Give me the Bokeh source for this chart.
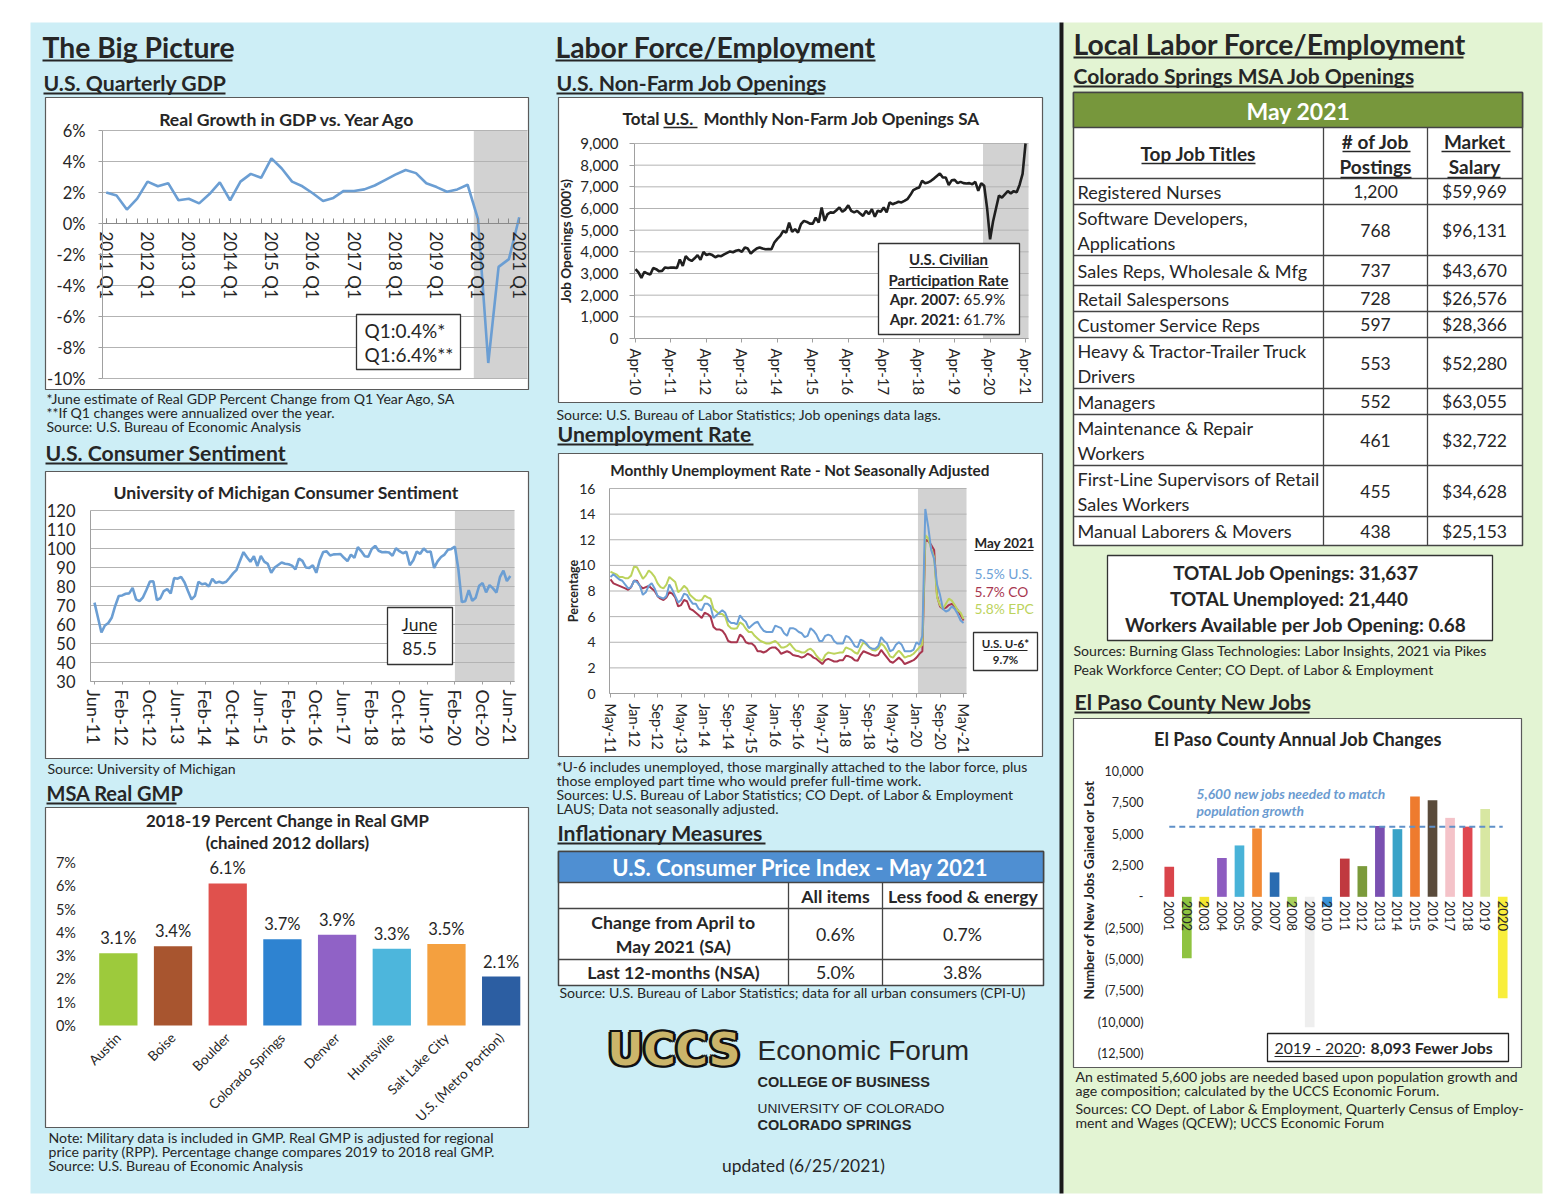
import math
from bokeh.plotting import figure
from bokeh.models import (Range1d, FixedTicker, ColumnDataSource, NumeralTickFormatter,
                          LabelSet, LinearAxis)
from bokeh.core.properties import value
from bokeh.embed import file_html
from bokeh.resources import INLINE

# ======================= DATA =======================
gdp_x_labels = ["2011 Q1", "2012 Q1", "2013 Q1", "2014 Q1", "2015 Q1", "2016 Q1",
                "2017 Q1", "2018 Q1", "2019 Q1", "2020 Q1", "2021 Q1"]
gdp_y_ticks = [-10, -8, -6, -4, -2, 0, 2, 4, 6]
gdp_y_labels = ["-10%", "-8%", "-6%", "-4%", "-2%", "0%", "2%", "4%", "6%"]
gdp_growth = [2.0, 1.8, 0.9, 1.6, 2.7, 2.4, 2.6, 1.5, 1.6, 1.3, 1.9, 2.65, 1.5, 2.7, 3.2, 2.95,
              4.2, 3.55, 2.7, 2.4, 1.95, 1.45, 1.65, 2.1, 2.1, 2.2, 2.45, 2.8, 3.15, 3.45, 3.25,
              2.6, 2.35, 2.05, 2.2, 2.5, 0.3, -9.0, -2.8, -2.3, 0.4]
gdp_shade_from = 35.6
gdp_callout = ["Q1:0.4%*", "Q1:6.4%**"]

sent_x_labels = ["Jun-11", "Feb-12", "Oct-12", "Jun-13", "Feb-14", "Oct-14", "Jun-15", "Feb-16",
                 "Oct-16", "Jun-17", "Feb-18", "Oct-18", "Jun-19", "Feb-20", "Oct-20", "Jun-21"]
sent_y_ticks = [30, 40, 50, 60, 70, 80, 90, 100, 110, 120]
sentiment = [71.5, 63.7, 55.8, 59.5, 60.8, 63.7, 69.9,
             75.0, 75.3, 76.2, 76.4, 79.3, 73.2, 72.3, 74.3, 78.3, 82.6, 82.7, 72.9,
             73.8, 77.6, 78.6, 76.4, 84.5, 84.1, 85.1, 82.1, 77.5, 73.2, 75.1, 82.5,
             81.2, 81.6, 80.0, 84.1, 81.9, 82.5, 81.8, 82.5, 84.6, 86.9, 88.8, 93.6,
             98.1, 95.4, 93.0, 95.9, 90.7, 96.1, 93.1, 91.9, 87.2, 90.0, 91.3, 92.6,
             92.0, 91.7, 91.0, 89.0, 94.7, 93.5, 90.0, 89.8, 91.2, 87.2, 93.8, 98.2,
             98.5, 96.3, 96.9, 97.0, 97.1, 95.1, 93.4, 96.8, 95.1, 100.7, 98.5, 95.9,
             95.7, 99.7, 101.4, 98.8, 98.0, 98.2, 97.9, 96.2, 100.1, 98.6, 97.5, 98.3,
             91.2, 93.8, 98.4, 97.2, 100.0, 98.2, 98.4, 89.8, 93.2, 95.5, 96.8, 99.3,
             99.8, 101.0, 89.1, 71.8, 72.3, 78.1, 72.5, 74.1, 80.4, 81.8, 76.9, 80.7,
             79.0, 76.8, 84.9, 88.3, 82.9, 85.5]
sent_shade_from = 104
sent_callout = ["June", "85.5"]

gmp_cities = ["Austin", "Boise", "Boulder", "Colorado Springs", "Denver", "Huntsville",
              "Salt Lake City", "U.S. (Metro Portion)"]
gmp_change = [3.1, 3.4, 6.1, 3.7, 3.9, 3.3, 3.5, 2.1]
gmp_colors = ["#9dca3c", "#a8552f", "#e0514d", "#2e83d1", "#9062c6", "#4db6dc", "#f4a03f", "#2c5ea2"]
gmp_y_ticks = [0, 1, 2, 3, 4, 5, 6, 7]
gmp_y_labels = ["0%", "1%", "2%", "3%", "4%", "5%", "6%", "7%"]

jobs_x_labels = ["Apr-10", "Apr-11", "Apr-12", "Apr-13", "Apr-14", "Apr-15", "Apr-16",
                 "Apr-17", "Apr-18", "Apr-19", "Apr-20", "Apr-21"]
jobs_y_ticks = [0, 1000, 2000, 3000, 4000, 5000, 6000, 7000, 8000, 9000]
job_openings = [3200, 3050, 2800, 3080, 3000, 2950, 3250, 3200, 3100, 3120, 3280, 3250,
                3280, 3270, 3250, 3650, 3350, 3800, 3650, 3580, 3700, 3850, 3630, 4000,
                3850, 3900, 3850, 3750, 3820, 3800, 3880, 3950, 4020, 3980, 4050, 4080,
                4000, 4200, 4150, 3920, 4050, 4150, 4200, 4150, 4120, 4130, 4120, 4430,
                4600, 4740, 4970, 4890, 5350, 4920, 5050, 4890, 5280, 5430, 5380, 5300,
                5300, 5580, 5350, 6050, 5430, 5740, 5820, 5800, 5920, 6050, 5850, 5950,
                6150, 5890, 5820, 5890, 5770, 5660, 5890, 5740, 5970, 5620, 5900, 5850,
                6050, 5820, 6280, 6200, 6250, 6310, 6280, 6350, 6430, 6620, 6850, 6920,
                6970, 7280, 7170, 7200, 7280, 7380, 7500, 7620, 7430, 7430, 7080, 7300,
                7320, 7170, 7230, 7170, 7150, 7170, 7120, 7230, 6820, 7170, 7050, 6000,
                4580, 5400, 6000, 6600, 6500, 6650, 6800, 6700, 6800, 6750, 7100, 7600, 9000]
jobs_shade_from = 117.6
participation = [("Apr. 2007:", "65.9%"), ("Apr. 2021:", "61.7%")]

unemp_x_labels = ["May-11", "Jan-12", "Sep-12", "May-13", "Jan-14", "Sep-14", "May-15", "Jan-16",
                  "Sep-16", "May-17", "Jan-18", "Sep-18", "May-19", "Jan-20", "Sep-20", "May-21"]
unemp_y_ticks = [0, 2, 4, 6, 8, 10, 12, 14, 16]
unemp_us = [9.1, 9.3, 9.1, 8.9, 8.8, 8.5, 8.2, 8.3,
            8.8, 8.7, 8.4, 7.7, 7.9, 8.4, 8.6, 8.2, 7.6, 7.5, 7.4, 7.6,
            8.5, 8.1, 7.6, 7.1, 7.3, 7.8, 7.7, 7.3, 7.0, 7.0, 6.6, 6.5,
            7.0, 7.0, 6.8, 5.9, 6.1, 6.3, 6.5, 6.3, 5.7, 5.5, 5.5, 5.4,
            6.1, 5.8, 5.6, 5.1, 5.3, 5.5, 5.6, 5.2, 4.9, 4.8, 4.8, 4.8,
            5.3, 5.2, 5.1, 4.7, 4.5, 5.1, 5.1, 5.0, 4.8, 4.7, 4.4, 4.5,
            5.1, 4.9, 4.6, 4.1, 4.1, 4.5, 4.6, 4.5, 4.1, 3.9, 3.9, 3.9,
            4.5, 4.4, 4.1, 3.7, 3.6, 4.2, 4.1, 3.9, 3.6, 3.5, 3.5, 3.7,
            4.4, 4.1, 3.9, 3.3, 3.4, 3.8, 4.0, 3.8, 3.3, 3.3, 3.3, 3.4,
            4.0, 3.8, 4.5, 14.4, 13.0, 11.2, 10.5, 8.5, 7.7, 6.6, 6.4, 6.5,
            6.8, 6.6, 6.2, 5.7, 5.5]
unemp_co = [8.9, 8.6, 8.5, 8.4, 8.3, 8.2, 8.1, 8.3,
            8.8, 8.8, 8.4, 8.2, 8.3, 8.4, 8.2, 8.0, 7.6, 7.4, 7.3, 7.5,
            7.9, 7.8, 7.5, 6.8, 6.9, 7.3, 7.2, 6.6, 6.5, 6.3, 6.1, 5.9,
            6.3, 6.2, 6.0, 5.2, 5.0, 5.0, 4.9, 4.6, 4.1, 4.0, 4.0, 4.0,
            4.6, 4.4, 4.0, 3.9, 3.9, 3.7, 3.3, 3.3, 3.2, 3.3, 3.5, 3.6,
            3.6, 3.4, 3.1, 3.2, 3.3, 3.2, 3.0, 2.95, 2.9, 2.8, 2.9, 3.1,
            3.0, 2.8, 2.7, 2.5, 2.3, 2.6, 2.7, 2.6, 2.5, 2.5, 2.6, 2.6,
            2.95, 2.9, 2.8, 2.6, 2.55, 3.0, 3.3, 3.2, 3.1, 3.0, 2.95, 3.0,
            3.4, 3.1, 2.8, 2.5, 2.4, 2.6, 2.8, 2.6, 2.3, 2.4, 2.5, 2.6,
            2.8, 3.1, 3.3, 12.0, 11.9, 11.6, 11.2, 7.6, 6.8, 6.6, 6.7, 6.9,
            7.0, 6.8, 6.5, 6.1, 5.7]
unemp_epc = [9.5, 9.4, 9.3, 9.1, 9.1, 9.0, 9.0, 9.2,
             9.9, 9.85, 9.4, 8.95, 9.2, 9.6, 9.4, 9.1, 8.6, 8.3, 8.2, 8.5,
             9.1, 8.9, 8.7, 7.9, 8.1, 8.4, 8.2, 7.7, 7.5, 7.3, 7.25, 7.3,
             7.65, 7.5, 7.4, 6.6, 6.4, 6.2, 6.2, 6.0, 5.3, 5.1, 5.05, 5.1,
             5.55, 5.4, 5.05, 4.8, 4.8, 4.5, 4.3, 4.1, 4.0, 3.9, 3.9, 4.0,
             4.1, 3.9, 3.6, 3.6, 3.7, 3.9, 3.6, 3.35, 3.3, 3.2, 3.2, 3.4,
             3.5, 3.3, 2.95, 2.7, 2.55, 3.0, 3.2, 3.15, 3.1, 3.15, 3.2, 3.2,
             3.6, 3.5, 3.4, 3.2, 3.1, 3.6, 4.0, 3.8, 3.6, 3.4, 3.35, 3.5,
             3.9, 3.7, 3.35, 2.9, 2.8, 3.1, 3.35, 3.1, 2.8, 2.9, 2.95, 3.1,
             3.35, 3.6, 3.8, 12.35, 12.1, 11.3, 10.65, 7.5, 6.9, 6.6, 7.0, 7.4,
             7.25, 6.9, 6.5, 6.3, 5.8]
unemp_shade_from = 104.5
unemp_legend = [("5.5% U.S.", "#6c9fd6"), ("5.7% CO", "#a8364f"), ("5.8% EPC", "#bcd35c")]
u6_rate = "9.7%"

ep_years = ["2001", "2002", "2003", "2004", "2005", "2006", "2007", "2008", "2009", "2010",
            "2011", "2012", "2013", "2014", "2015", "2016", "2017", "2018", "2019", "2020"]
ep_change = [2400, -4900, -850, 3100, 4100, 5450, 1950, -800, -10400, -800,
             3050, 2450, 5650, 5400, 8000, 7700, 6300, 5600, 7000, -8093]
ep_colors = ["#d9444b", "#8fc340", "#f3e52f", "#8d5cc0", "#49b3d8", "#f28a35", "#2a6cb1", "#a8d05c",
             "#eeeeee", "#3b93d7", "#c0393f", "#7b9a3b", "#7a50b1", "#3aa3c8", "#ee7b2e", "#5a4b3b",
             "#f4c3c9", "#df4850", "#d8e7a2", "#f8ee3c"]
ep_y_ticks = [-12500, -10000, -7500, -5000, -2500, 0, 2500, 5000, 7500, 10000]
ep_y_labels = ["(12,500)", "(10,000)", "(7,500)", "(5,000)", "(2,500)", "-",
               "2,500", "5,000", "7,500", "10,000"]
ep_target = 5600

job_titles = ["Registered Nurses", "Software Developers,\nApplications", "Sales Reps, Wholesale & Mfg",
              "Retail Salespersons", "Customer Service Reps", "Heavy & Tractor-Trailer Truck\nDrivers",
              "Managers", "Maintenance & Repair\nWorkers", "First-Line Supervisors of Retail\nSales Workers",
              "Manual Laborers & Movers"]
job_postings = [1200, 768, 737, 728, 597, 553, 552, 461, 455, 438]
job_salary = [59969, 96131, 43670, 26576, 28366, 52280, 63055, 32722, 34628, 25153]
total_openings = 31637
total_unemployed = 21440
workers_per_opening = 0.68

cpi_rows = ["Change from April to\nMay 2021 (SA)", "Last 12-months (NSA)"]
cpi_cols = ["All items", "Less food & energy"]
cpi_all = [0.6, 5.0]
cpi_core = [0.7, 3.8]

# ======================= STYLE / LAYOUT =======================
FONT = "Lato"
INK = "#262626"
BLUE_BG = "#cdeef6"
GREEN_BG = "#e3f4d3"
SHADE = "#d2d2d2"
GRID = "#b3b3b3"
PW, PH = 1544, 1196          # page pixel coordinates, origin at top-left

P = figure(width=PW, height=PH, x_range=Range1d(0, PW), y_range=Range1d(PH, 0),
           output_backend="svg", toolbar_location=None, min_border=0,
           x_axis_location=None, y_axis_location=None)
P.grid.visible = False
P.outline_line_color = None
P.background_fill_color = "white"
P.border_fill_color = "white"

XR, YR = {}, {}


def chart_space(name, xd, xp, yd, yp):
    """data interval xd maps to page pixels xp; yd (bottom, top) maps to page pixels yp."""
    kx = (xd[1] - xd[0]) / (xp[1] - xp[0])
    xs = xd[0] - xp[0] * kx
    XR[name] = Range1d(xs, xs + PW * kx)
    ky = (yd[1] - yd[0]) / (yp[0] - yp[1])
    ys = yd[0] - (PH - yp[0]) * ky
    YR[name] = Range1d(ys, ys + PH * ky)
    return dict(x_range_name=name, y_range_name=name)


def axis(name, side, fixed, bounds, ticks, labels=None, minor=None, size=15, orient="horizontal",
         standoff=8, tick_in=0, tick_out=0, line_color="#a0a0a0", formatter=None,
         title=None, title_size=14, title_standoff=4):
    ax = LinearAxis(x_range_name=name, y_range_name=name, fixed_location=fixed, bounds=bounds)
    ax.ticker = FixedTicker(ticks=ticks, minor_ticks=minor or [])
    if labels is not None:
        ax.major_label_overrides = dict(zip(ticks, labels))
    if formatter is not None:
        ax.formatter = formatter
    ax.major_label_text_font = FONT
    ax.major_label_text_font_size = f"{size}px"
    ax.major_label_text_color = INK
    ax.major_label_orientation = orient
    ax.major_label_standoff = standoff
    ax.major_tick_in, ax.major_tick_out = tick_in, tick_out
    ax.minor_tick_in, ax.minor_tick_out = tick_in, 0
    ax.axis_line_color = line_color
    ax.major_tick_line_color = line_color if (tick_in or tick_out) else None
    ax.minor_tick_line_color = line_color if minor else None
    if title:
        ax.axis_label = title
        ax.axis_label_text_font = FONT
        ax.axis_label_text_font_style = "bold"
        ax.axis_label_text_font_size = f"{title_size}px"
        ax.axis_label_text_color = INK
        ax.axis_label_standoff = title_standoff
    P.add_layout(ax, side)
    return ax


def hgrid(rn, xd, ticks):
    P.segment(x0=xd[0], x1=xd[1], y0=ticks, y1=ticks, line_color=GRID, line_width=1, **rn)


# ---------- text / shape collectors (page coordinates) ----------
TX = {"left": [], "center": [], "right": []}
UL = []


def T(x, y, s, size, bold=False, italic=False, color=INK, align="left", font=FONT):
    st = "bold italic" if (bold and italic) else ("bold" if bold else ("italic" if italic else "normal"))
    TX[align].append(dict(x=x, y=y, text=s, size=f"{size}px", style=st, color=color, font=font))


def U(x0, x1, y, w=1.5, color=INK):
    UL.append(dict(x0=x0, x1=x1, y=y, w=w, c=color))


def boxes(lst):
    src = ColumnDataSource(dict(l=[b[0] for b in lst], t=[b[1] for b in lst], r=[b[2] for b in lst],
                                b=[b[3] for b in lst], f=[b[4] for b in lst], lc=[b[5] for b in lst],
                                lw=[b[6] for b in lst]))
    P.quad(left="l", right="r", top="t", bottom="b", fill_color="f", line_color="lc",
           line_width="lw", source=src)


# ======================= BACKGROUND PANELS =======================
boxes([(30, 22, 1060, 1193, BLUE_BG, None, 0),
       (1063, 22, 1542, 1193, GREEN_BG, None, 0),
       (1059, 22, 1063, 1193, "#1a1a1a", None, 0),
       (45, 97, 528, 389, "white", "#5a5a5a", 1.2),
       (45, 471, 528, 758, "white", "#5a5a5a", 1.2),
       (45, 807, 528, 1127, "white", "#5a5a5a", 1.2),
       (558, 97, 1042, 402, "white", "#5a5a5a", 1.2),
       (558, 453, 1042, 756, "white", "#5a5a5a", 1.2),
       (1073, 718, 1521, 1067, "white", "#5a5a5a", 1.2)])

# ======================= CHART 1: GDP =======================
gx, gy = (-0.36, 40.8), (-10, 6)
rn = chart_space("gdp", gx, (102, 527), gy, (378, 130))
P.quad(left=[gdp_shade_from], right=[gx[1]], bottom=[gy[0]], top=[gy[1]], fill_color=SHADE,
       line_color=None, **rn)
hgrid(rn, gx, gdp_y_ticks)
P.line(x=list(range(len(gdp_growth))), y=gdp_growth, line_color="#6b9ed3", line_width=2.6, **rn)
axis("gdp", "below", 0, gx, [4 * i for i in range(len(gdp_x_labels))], gdp_x_labels,
     minor=list(range(len(gdp_growth))), size=17, orient="vertical", standoff=8, tick_in=5,
     line_color="#8a8a8a")
axis("gdp", "left", gx[0], gy, gdp_y_ticks, gdp_y_labels, size=16.5, standoff=13, tick_out=4)

# ======================= CHART 2: SENTIMENT =======================
sx, sy = (-1.15, 121.2), (30, 120)
rn = chart_space("sent", sx, (90, 514), sy, (681, 510))
P.quad(left=[sent_shade_from], right=[sx[1]], bottom=[sy[0]], top=[sy[1]], fill_color=SHADE,
       line_color=None, **rn)
hgrid(rn, sx, sent_y_ticks)
P.line(x=list(range(len(sentiment))), y=sentiment, line_color="#6b9ed3", line_width=2.6, **rn)
axis("sent", "below", sy[0], sx, [8 * i for i in range(len(sent_x_labels))], sent_x_labels,
     size=18, orient="vertical", standoff=5, tick_out=3)
axis("sent", "left", sx[0], sy, sent_y_ticks, [str(v) for v in sent_y_ticks], size=16.5, standoff=15)

# ======================= CHART 3: GMP =======================
mx_, my_ = (-0.5, len(gmp_cities) - 0.5), (0, 7)
rn = chart_space("gmp", mx_, (90.5, 528), my_, (1025, 862))
gsrc = ColumnDataSource(dict(i=list(range(len(gmp_cities))), v=gmp_change, c=gmp_colors,
                             lab=[f"{v:.1f}%" for v in gmp_change]))
P.vbar(x="i", top="v", width=0.7, fill_color="c", line_color=None, source=gsrc, **rn)
P.add_layout(LabelSet(x="i", y="v", text="lab", source=gsrc, text_align="center",
                      text_baseline="bottom", y_offset=5, text_font=value(FONT),
                      text_font_size="16.5px", text_color=INK, **rn))
axis("gmp", "below", 0, mx_, list(range(len(gmp_cities))), gmp_cities, size=13.5,
     orient=math.pi / 4, standoff=10, line_color=None)
axis("gmp", "left", mx_[0], my_, gmp_y_ticks, gmp_y_labels, size=14.5, standoff=15, line_color=None)

# ======================= CHART 4: JOB OPENINGS =======================
jx, jy = (-0.34, 133.0), (0, 9000)
rn = chart_space("jobs", jx, (634, 1028), jy, (338, 143))
P.quad(left=[jobs_shade_from], right=[jx[1]], bottom=[jy[0]], top=[jy[1]], fill_color=SHADE,
       line_color=None, **rn)
hgrid(rn, jx, jobs_y_ticks)
P.line(x=list(range(len(job_openings))), y=job_openings, line_color="#1f1f1f", line_width=2.6, **rn)
axis("jobs", "below", 0, jx, [12 * i for i in range(len(jobs_x_labels))], jobs_x_labels,
     size=15, orient="vertical", standoff=6, tick_out=4)
axis("jobs", "left", jx[0], jy, jobs_y_ticks, size=15, standoff=11, tick_out=5,
     formatter=NumeralTickFormatter(format="0,0"), title="Job Openings (000's)",
     title_size=13.5, title_standoff=3)

# ======================= CHART 5: UNEMPLOYMENT =======================
ux, uy = (-0.34, 121.0), (0, 16)
rn = chart_space("unemp", ux, (609, 966), uy, (693, 488))
P.quad(left=[unemp_shade_from], right=[ux[1]], bottom=[uy[0]], top=[uy[1]], fill_color=SHADE,
       line_color=None, **rn)
hgrid(rn, ux, unemp_y_ticks)
mi = list(range(len(unemp_us)))
P.line(x=mi, y=unemp_co, line_color=unemp_legend[1][1], line_width=2, **rn)
P.line(x=mi, y=unemp_epc, line_color=unemp_legend[2][1], line_width=2, **rn)
P.line(x=mi, y=unemp_us, line_color=unemp_legend[0][1], line_width=2, **rn)
axis("unemp", "below", 0, ux, [8 * i for i in range(len(unemp_x_labels))], unemp_x_labels,
     size=14.6, orient="vertical", standoff=6, tick_out=4)
axis("unemp", "left", ux[0], uy, unemp_y_ticks, [str(v) for v in unemp_y_ticks], size=14,
     standoff=14, title="Percentage", title_size=12.5, title_standoff=-5)

# ======================= CHART 6: EL PASO =======================
ex, ey = (-0.5, len(ep_years) - 0.5), (-12500, 10000)
rn = chart_space("ep", ex, (1160, 1511), ey, (1053, 771))
ei = list(range(len(ep_years)))
P.vbar(x=ei, top=ep_change, width=0.55, fill_color=ep_colors, line_color=None, **rn)
P.line(x=[ei[0], ei[-1]], y=[ep_target, ep_target], line_color="#5f90c8", line_width=2,
       line_dash="6 4", **rn)
axis("ep", "below", 0, ex, ei, ep_years, size=13, orient="vertical", standoff=4, line_color=None)
# axis line is hidden; the upper bound is extended so that the axis title sits where the reference has it
axis("ep", "left", ex[0], (ey[0], 13700), ep_y_ticks, ep_y_labels, size=12.5, standoff=17,
     line_color=None, title="Number of New Jobs Gained or Lost", title_size=13.7, title_standoff=-2)

# ======================= CALLOUTS / TABLES =======================
call = [(356, 314, 460, 369, "white", "#333333", 1.3),
        (387, 607, 452, 664, "white", "#333333", 1.3),
        (878, 243, 1019, 334, "white", "#333333", 1.3),
        (973, 632, 1037, 670, "white", "#333333", 1.3),
        (1267, 1033, 1508, 1061, "white", "#222222", 1.3),
        (1107, 555, 1492, 640, "white", "#333333", 1.3),
        (558, 851, 1043, 985, "white", "#444444", 1.5),
        (558, 851, 1043, 882, "#4f8fd2", "#444444", 1.5),
        (1073, 92, 1522, 545, "white", "#444444", 1.5),
        (1073, 92, 1522, 127, "#77973c", "#444444", 1.5)]
boxes(call)

LINES = []
cpi_edges = [882, 908, 959, 985]
cpi_xs = [558, 788, 882, 1043]
for yy in cpi_edges[1:-1]:
    LINES.append((558, yy, 1043, yy))
for xx in cpi_xs[1:-1]:
    LINES.append((xx, 882, xx, 985))
job_edges = [127, 178, 204, 255, 285, 311, 337, 388, 414, 465, 516, 545]
jcols = [1073, 1323, 1427, 1522]
for yy in job_edges[1:-1]:
    LINES.append((1073, yy, 1522, yy))
for xx in jcols[1:-1]:
    LINES.append((xx, 127, xx, 545))
P.segment(x0=[l[0] for l in LINES], y0=[l[1] for l in LINES], x1=[l[2] for l in LINES],
          y1=[l[3] for l in LINES], line_color="#444444", line_width=1.3)

NOTE = 14.1
SUB = 21.2
HEAD = 28.3
CT = 17.6

# --- left column texts ---
T(42, 46, "The Big Picture", HEAD, bold=True); U(42, 232, 60, 2)
T(43, 82, "U.S. Quarterly GDP", SUB, bold=True); U(43, 225, 93, 2)
T(287, 119, "Real Growth in GDP vs. Year Ago", CT, bold=True, align="center")
T(364, 330, gdp_callout[0], 19); T(364, 354, gdp_callout[1], 19)
T(46, 398, "*June estimate of Real GDP Percent Change from Q1 Year Ago, SA", NOTE)
T(46, 412, "**If Q1 changes were annualized over the year.", NOTE)
T(46, 426, "Source: U.S. Bureau of Economic Analysis", NOTE)

T(45, 452, "U.S. Consumer Sentiment", SUB, bold=True); U(45, 287, 463, 2)
T(286, 492, "University of Michigan Consumer Sentiment", CT, bold=True, align="center")
T(419, 624, sent_callout[0], 17.5, align="center"); U(403, 436, 633, 1.2)
T(419, 648, sent_callout[1], 17.5, align="center")
T(47, 768, "Source: University of Michigan", NOTE)

T(46, 792, "MSA Real GMP", 20, bold=True); U(46, 176, 803, 2)
T(287, 820, "2018-19 Percent Change in Real GMP", 16.8, bold=True, align="center")
T(287, 842, "(chained 2012 dollars)", 16.8, bold=True, align="center")
T(48, 1137, "Note: Military data is included in GMP. Real GMP is adjusted for regional", NOTE)
T(48, 1151, "price parity (RPP). Percentage change compares 2019 to 2018 real GMP.", NOTE)
T(48, 1165, "Source: U.S. Bureau of Economic Analysis", NOTE)

# --- middle column texts ---
T(555, 46, "Labor Force/Employment", HEAD, bold=True); U(555, 875, 60, 2)
T(556, 82, "U.S. Non-Farm Job Openings", SUB, bold=True); U(556, 824, 93, 2)
T(659, 118, "Total", 17, bold=True, align="right")
T(663, 118, "U.S.", 17, bold=True); U(663, 697, 127, 1.3)
T(703, 118, "Monthly Non-Farm Job Openings SA", 17, bold=True)
T(948, 258, "U.S. Civilian", 15, bold=True, align="center"); U(909, 988, 267, 1.2)
T(948, 279, "Participation Rate", 15, bold=True, align="center"); U(889, 1008, 288, 1.2)
for k, (lab, val) in enumerate(participation):
    T(959, 298 + 20 * k, lab, 15, bold=True, align="right")
    T(963, 298 + 20 * k, val, 15)
T(556, 414, "Source: U.S. Bureau of Labor Statistics; Job openings data lags.", NOTE)

T(557, 433, "Unemployment Rate", SUB, bold=True); U(557, 753, 444, 2)
T(800, 469, "Monthly Unemployment Rate - Not Seasonally Adjusted", 15.3, bold=True, align="center")
T(974, 542, "May 2021", 13.4, bold=True); U(974, 1033, 550, 1.2)
for k, (lab, col) in enumerate(unemp_legend):
    T(974, 573 + 17.5 * k, lab, 13.8, color=col)
T(1005, 643, "U.S. U-6*", 11.5, bold=True, align="center"); U(983, 1027, 650, 1)
T(1005, 659, u6_rate, 11.5, bold=True, align="center")
T(556, 766, "*U-6 includes unemployed, those marginally attached to the labor force, plus", NOTE)
T(556, 780, "those employed part time who would prefer full-time work.", NOTE)
T(556, 794, "Sources: U.S. Bureau of Labor Statistics; CO Dept. of Labor & Employment", NOTE)
T(556, 808, "LAUS; Data not seasonally adjusted.", NOTE)

T(557, 832, "Inflationary Measures", SUB, bold=True); U(557, 765, 843, 2)
T(800, 867, "U.S. Consumer Price Index - May 2021", 22, bold=True, color="white", align="center")
for j, c in enumerate(cpi_cols):
    T((cpi_xs[j + 1] + cpi_xs[j + 2]) / 2, 896, c, 17.7, bold=True, align="center")
for i, r in enumerate(cpi_rows):
    top, bot = cpi_edges[i + 1], cpi_edges[i + 2]
    mid = (top + bot) / 2
    parts = r.split("\n")
    for k, ptxt in enumerate(parts):
        T(673, mid + (k - (len(parts) - 1) / 2) * 24, ptxt, 17.7, bold=True, align="center")
    T(835, mid, f"{cpi_all[i]:.1f}%", 17.7, align="center")
    T(962, mid, f"{cpi_core[i]:.1f}%", 17.7, align="center")
T(559, 992, "Source: U.S. Bureau of Labor Statistics; data for all urban consumers (CPI-U)", NOTE)

T(757, 1050, "Economic Forum", 28, font="Liberation Sans")
T(757, 1081, "COLLEGE OF BUSINESS", 14.5, bold=True, font="Liberation Sans")
T(757, 1108, "UNIVERSITY OF COLORADO", 13.7, font="Liberation Sans")
T(757, 1124, "COLORADO SPRINGS", 14.5, bold=True, font="Liberation Sans")
T(803, 1165, "updated (6/25/2021)", 17.4, align="center")

# --- right column texts ---
T(1073, 43, "Local Labor Force/Employment", HEAD, bold=True); U(1073, 1463, 57, 2)
T(1073, 75, "Colorado Springs MSA Job Openings", 21, bold=True); U(1073, 1413, 86, 2)
T(1298, 110, "May 2021", 23, bold=True, color="white", align="center")
T(1198, 153, "Top Job Titles", 19, bold=True, align="center"); U(1141, 1255, 163, 1.3)
T(1375, 141, "# of Job", 19, bold=True, align="center"); U(1342, 1410, 151, 1.3)
T(1375, 166, "Postings", 19, bold=True, align="center"); U(1340, 1411, 177, 1.3)
T(1474, 141, "Market", 19, bold=True, align="center"); U(1441, 1510, 151, 1.3)
T(1474, 166, "Salary", 19, bold=True, align="center"); U(1447, 1500, 177, 1.3)
for i, title in enumerate(job_titles):
    top, bot = job_edges[i + 1], job_edges[i + 2]
    mid = (top + bot) / 2
    parts = title.split("\n")
    for k, ptxt in enumerate(parts):
        T(1077, mid + (k - (len(parts) - 1) / 2) * 25, ptxt, 18.1)
    T(1375, mid, f"{job_postings[i]:,}", 17.5, align="center")
    T(1474, mid, f"${job_salary[i]:,}", 17.5, align="center")
T(1298, 572, f"TOTAL Job Openings:  {total_openings:,}", 18.9, bold=True, align="center")
T(1298, 598, f"TOTAL Unemployed:     {total_unemployed:,}", 18.9, bold=True, align="center")
T(1298, 624, f"Workers Available per Job Opening:  {workers_per_opening:.2f}", 18.9, bold=True,
  align="center")
T(1073, 650, "Sources: Burning Glass Technologies: Labor Insights, 2021 via Pikes", NOTE)
T(1073, 669, "Peak Workforce Center; CO Dept. of Labor & Employment", NOTE)

T(1074, 701, "El Paso County New Jobs", SUB, bold=True); U(1074, 1309, 712, 2)
T(1298, 738, "El Paso County Annual Job Changes", 18.2, bold=True, align="center")
T(1196, 793, f"{ep_target:,} new jobs needed to match", 13.8, bold=True, italic=True, color="#6b9bd0")
T(1196, 810, "population growth", 13.8, bold=True, italic=True, color="#6b9bd0")
T(1274, 1047, "2019 - 2020:", 15.8); U(1274, 1358, 1056, 1.1)
T(1370, 1047, f"{-ep_change[-1]:,} Fewer Jobs", 15.8, bold=True)
T(1075, 1076, "An estimated 5,600 jobs are needed based upon population growth and", NOTE)
T(1075, 1090, "age composition; calculated by the UCCS Economic Forum.", NOTE)
T(1075, 1108, "Sources: CO Dept. of Labor & Employment, Quarterly Census of Employ-", NOTE)
T(1075, 1122, "ment and Wages (QCEW); UCCS Economic Forum", NOTE)

# underlines
usrc = ColumnDataSource(dict(x0=[u["x0"] for u in UL], x1=[u["x1"] for u in UL],
                             y=[u["y"] for u in UL], w=[u["w"] for u in UL], c=[u["c"] for u in UL]))
P.segment(x0="x0", y0="y", x1="x1", y1="y", line_width="w", line_color="c", source=usrc)

# texts
for align, items in TX.items():
    if not items:
        continue
    src = ColumnDataSource({k: [d[k] for d in items] for k in items[0]})
    P.text(x="x", y="y", text="text", text_font="font", text_font_size="size",
           text_font_style="style", text_color="color", text_align=align,
           text_baseline="middle", source=src)

# UCCS block logo: dark outline + gold fill
offs = [(-2, -2), (0, -2), (2, -2), (-2, 0), (2, 0), (-2, 2), (0, 2), (2, 2), (3, 0), (-3, 0)]
P.text(x=[607] * len(offs), y=[1049] * len(offs), text=["UCCS"] * len(offs),
       x_offset=[o[0] for o in offs], y_offset=[o[1] for o in offs],
       text_font=value("DejaVu Sans"), text_font_size="44px", text_font_style="bold",
       text_color="#111111", text_baseline="middle")
P.text(x=[607], y=[1049], text=["UCCS"], text_font=value("DejaVu Sans"), text_font_size="44px",
       text_font_style="bold", text_color="#cbb56a", text_baseline="middle")

P.extra_x_ranges = XR
P.extra_y_ranges = YR

open("out.html", "w").write(file_html(P, INLINE, "UCCS Economic Forum"))
